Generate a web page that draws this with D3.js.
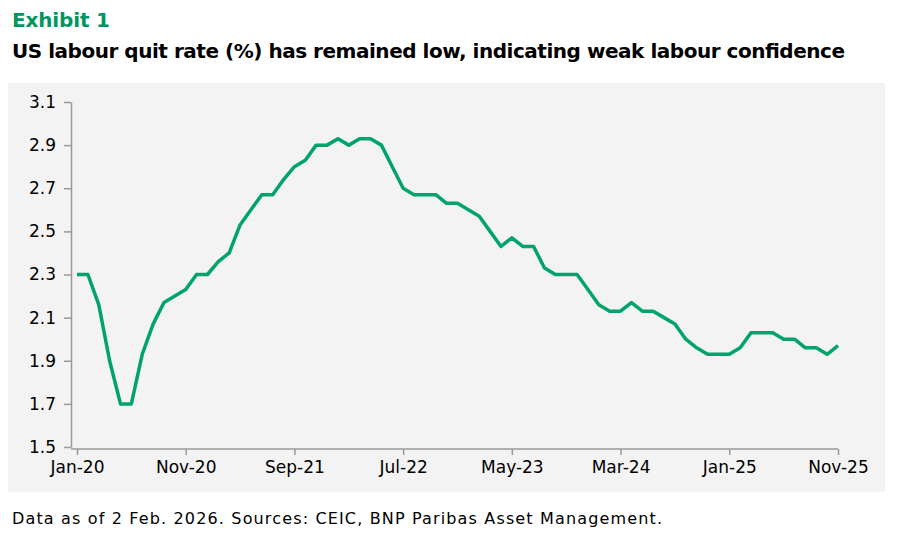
<!DOCTYPE html>
<html><head><meta charset="utf-8">
<script src="https://cdn.jsdelivr.net/npm/d3@7"></script>
<style>body{margin:0;background:#fff;font-family:"DejaVu Sans",sans-serif}</style>
</head><body><svg id="c" width="900" height="533"></svg>
<script>
var values = [2.3,2.3,2.16,1.9,1.7,1.7,1.93,2.07,2.17,2.2,2.23,2.3,
  2.3,2.36,2.4,2.53,2.6,2.67,2.67,2.74,2.8,2.83,2.9,2.9,
  2.93,2.9,2.93,2.93,2.9,2.8,2.7,2.67,2.67,2.67,2.63,2.63,
  2.6,2.57,2.5,2.43,2.47,2.43,2.43,2.33,2.3,2.3,2.3,2.23,
  2.16,2.13,2.13,2.17,2.13,2.13,2.1,2.07,2.0,1.96,1.93,1.93,
  1.93,1.96,2.03,2.03,2.03,2.0,2.0,1.96,1.96,1.93,1.97];
var xTickIdx = [0,10,20,30,40,50,60,70];
var xTickLabels = ["Jan-20","Nov-20","Sep-21","Jul-22","May-23","Mar-24","Jan-25","Nov-25"];
var yTicks = [1.5,1.7,1.9,2.1,2.3,2.5,2.7,2.9,3.1];

var svg = d3.select("#c");
svg.append("text").attr("x",12).attr("y",27).attr("fill","#00965e")
  .attr("font-size",20).attr("font-weight","bold").attr("textLength",98).text("Exhibit 1");
svg.append("text").attr("x",12).attr("y",58).attr("fill","#000")
  .attr("font-size",20).attr("font-weight","bold").attr("textLength",833)
  .text("US labour quit rate (%) has remained low, indicating weak labour confidence");
svg.append("rect").attr("x",8).attr("y",83).attr("width",877).attr("height",409).attr("fill","#f3f3f3");
svg.append("text").attr("x",12).attr("y",524).attr("font-size",16).attr("textLength",650)
  .text("Data as of 2 Feb. 2026. Sources: CEIC, BNP Paribas Asset Management.");

var x = d3.scaleLinear().domain([0,70]).range([77,838]);
var y = d3.scaleLinear().domain([1.5,3.1]).range([447,102]);

var ya = svg.append("g").attr("transform","translate(71,0)")
  .call(d3.axisLeft(y).tickValues(yTicks).tickFormat(d3.format(".1f")).tickSize(7).tickSizeOuter(0).tickPadding(8));
var xa = svg.append("g").attr("transform","translate(0,449)")
  .call(d3.axisBottom(x).tickValues(xTickIdx).tickFormat(function(d,i){return xTickLabels[i];}).tickSize(6).tickSizeOuter(0).tickPadding(6));
[ya,xa].forEach(function(a){
  a.selectAll("path,line").attr("stroke","#999").attr("stroke-width",1.5);
  a.selectAll("text").attr("font-size",17).attr("fill","#000").attr("font-family","DejaVu Sans,sans-serif");
});
xa.select(".domain").attr("d","M71,0H"+838);

svg.append("path").datum(values)
  .attr("fill","none").attr("stroke","#00a46a").attr("stroke-width",3.5).attr("stroke-linejoin","round")
  .attr("d", d3.line().x(function(d,i){return x(i);}).y(function(d){return y(d);}));
</script></body></html>
